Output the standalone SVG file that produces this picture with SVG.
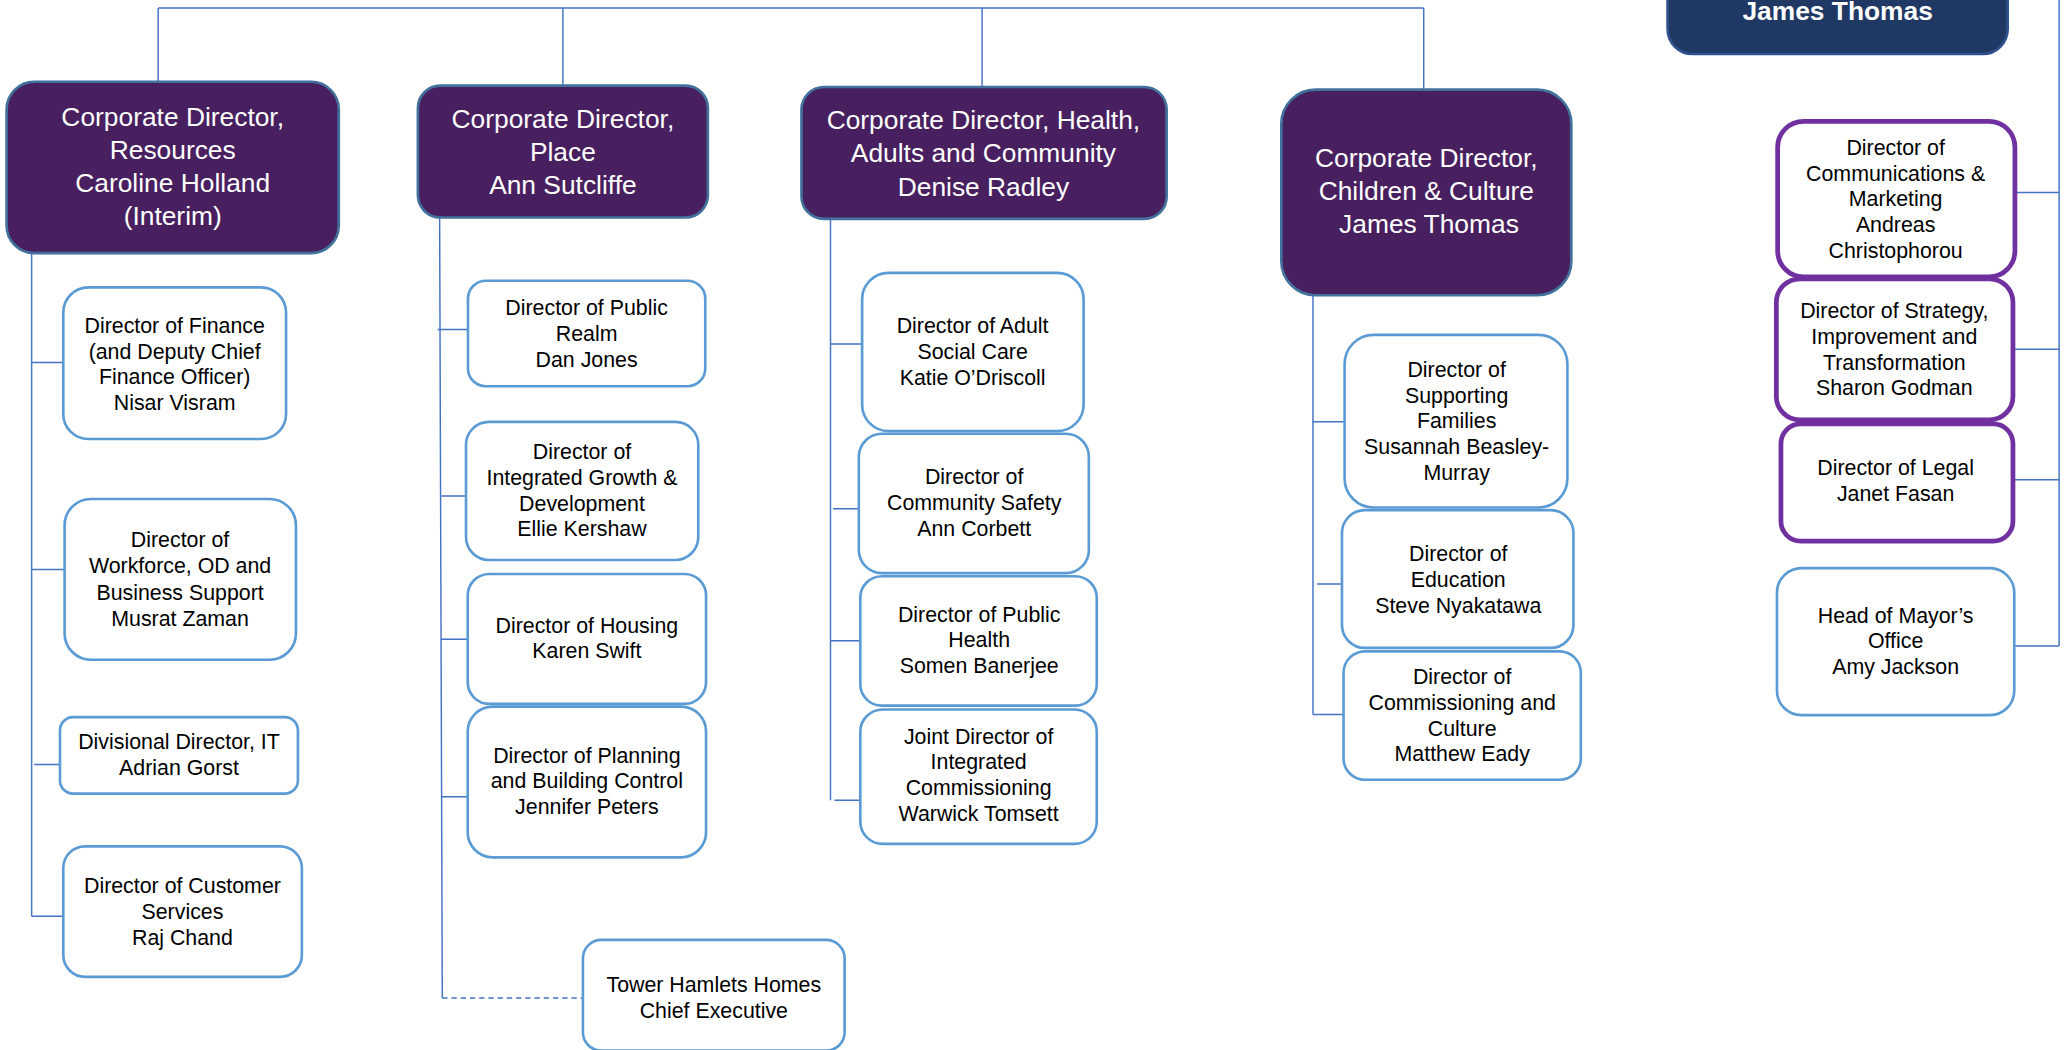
<svg xmlns="http://www.w3.org/2000/svg" width="2067" height="1050" viewBox="0 0 2067 1050">
<style>
.top rect{fill:#48205f;stroke:#41719c;stroke-width:2}
.top text{fill:#fff;font-family:"Liberation Sans",Arial,sans-serif;font-size:20px;text-anchor:middle}
.kid rect{fill:#fff;stroke:#5b9bd5;stroke-width:2}
.kid text{fill:#000;font-family:"Liberation Sans",Arial,sans-serif;font-size:16.2px;text-anchor:middle}
.pur rect{stroke:#7030a0;stroke-width:3.6}
.ln{stroke:#4472c4;stroke-width:1.1;fill:none}
.dash{stroke-dasharray:4 3}
</style>
<rect width="2067" height="1050" fill="#fff"/>
<g transform="scale(1.31824)">
<g id="connectors" class="ln">
<path d="M120 6H1080M120 6V62M427 6V65M745 6V66M1080 6V68"/>
<path d="M1562 0V490M1528 146H1562M1527 265H1562M1527 364H1562M1528 490H1562"/>
<path d="M24 192V695M24 275H48M24 432H49M26 580H46M24 695H49"/>
<path d="M333.5 165L335.5 757M332 250H355M335 376.3H353.5M334 485H354.8M335 604.4H354.8"/>
<path class="dash" d="M335.5 757H442"/>
<path d="M630 166V607M630 261H654M632 386H651M630 486H653M633 607H653"/>
<path d="M996 224V542M996 320H1020M999 443H1018M996 542H1019"/>
</g>
<g id="mayor-top">
<rect x="1265" y="-40" width="258" height="81" rx="19" fill="#203864" stroke="#2f528f" stroke-width="2"/>
<text x="1394" y="15.5" fill="#fff" font-family="Liberation Sans,Arial,sans-serif" font-size="20" font-weight="bold" text-anchor="middle">James Thomas</text>
</g>
<g id="cd-resources" class="top">
<rect x="5" y="62" width="252" height="130" rx="21"/>
<text x="131" y="95.5">Corporate Director,</text>
<text x="131" y="120.5">Resources</text>
<text x="131" y="145.5">Caroline Holland</text>
<text x="131" y="170.8">(Interim)</text>
</g>
<g id="cd-place" class="top">
<rect x="317" y="65" width="220" height="100" rx="17"/>
<text x="427" y="97">Corporate Director,</text>
<text x="427" y="122">Place</text>
<text x="427" y="147">Ann Sutcliffe</text>
</g>
<g id="cd-health" class="top">
<rect x="608" y="66" width="277" height="100" rx="17"/>
<text x="746" y="98">Corporate Director, Health,</text>
<text x="746" y="123">Adults and Community</text>
<text x="746" y="148.5">Denise Radley</text>
</g>
<g id="cd-children" class="top">
<rect x="972" y="68" width="220" height="156" rx="26"/>
<text x="1082" y="127">Corporate Director,</text>
<text x="1082" y="152">Children &amp; Culture</text>
<text x="1084" y="177">James Thomas</text>
</g>
<g id="finance" class="kid">
<rect x="48" y="218" width="169" height="115" rx="19"/>
<text x="132.5" y="252.4">Director of Finance</text>
<text x="132.5" y="272.1">(and Deputy Chief</text>
<text x="132.5" y="291.6">Finance Officer)</text>
<text x="132.5" y="311.4">Nisar Visram</text>
</g>
<g id="workforce" class="kid">
<rect x="49" y="378.5" width="175.5" height="122" rx="20"/>
<text x="136.6" y="415.3">Director of</text>
<text x="136.6" y="435">Workforce, OD and</text>
<text x="136.6" y="454.8">Business Support</text>
<text x="136.6" y="474.8">Musrat Zaman</text>
</g>
<g id="it" class="kid">
<rect x="45.5" y="544" width="180.5" height="58" rx="10"/>
<text x="135.8" y="568">Divisional Director, IT</text>
<text x="135.8" y="588">Adrian Gorst</text>
</g>
<g id="customer" class="kid">
<rect x="48" y="642" width="181" height="99" rx="16.5"/>
<text x="138.4" y="677.1">Director of Customer</text>
<text x="138.4" y="696.8">Services</text>
<text x="138.4" y="716.5">Raj Chand</text>
</g>
<g id="public-realm" class="kid">
<rect x="355" y="213" width="180" height="80" rx="13.5"/>
<text x="445" y="238.7">Director of Public</text>
<text x="445" y="258.8">Realm</text>
<text x="445" y="278.5">Dan Jones</text>
</g>
<g id="growth" class="kid">
<rect x="353.5" y="320" width="176.2" height="104.8" rx="17.5"/>
<text x="441.5" y="348.4">Director of</text>
<text x="441.5" y="367.9">Integrated Growth &amp;</text>
<text x="441.5" y="387.4">Development</text>
<text x="441.5" y="406.6">Ellie Kershaw</text>
</g>
<g id="housing" class="kid">
<rect x="354.8" y="435.4" width="180.8" height="98.6" rx="16.4"/>
<text x="445.2" y="480">Director of Housing</text>
<text x="445.2" y="499.4">Karen Swift</text>
</g>
<g id="planning" class="kid">
<rect x="354.8" y="536" width="180.8" height="114.4" rx="19"/>
<text x="445.2" y="578.6">Director of Planning</text>
<text x="445.2" y="598">and Building Control</text>
<text x="445.2" y="617.5">Jennifer Peters</text>
</g>
<g id="thh" class="kid">
<rect x="442.2" y="713" width="198.5" height="84" rx="14"/>
<text x="541.5" y="752.5">Tower Hamlets Homes</text>
<text x="541.5" y="772">Chief Executive</text>
</g>
<g id="adult-care" class="kid">
<rect x="654" y="207" width="168" height="120" rx="20"/>
<text x="737.8" y="252.7">Director of Adult</text>
<text x="737.8" y="272.4">Social Care</text>
<text x="737.8" y="292">Katie O’Driscoll</text>
</g>
<g id="community-safety" class="kid">
<rect x="651.5" y="329" width="174.5" height="105.8" rx="17.6"/>
<text x="739" y="367.3">Director of</text>
<text x="739" y="386.8">Community Safety</text>
<text x="739" y="406.6">Ann Corbett</text>
</g>
<g id="public-health" class="kid">
<rect x="652.6" y="437.1" width="179.4" height="98.2" rx="16.4"/>
<text x="742.8" y="471.6">Director of Public</text>
<text x="742.8" y="491.1">Health</text>
<text x="742.8" y="510.9">Somen Banerjee</text>
</g>
<g id="joint-commissioning" class="kid">
<rect x="652.6" y="538.2" width="179.4" height="102" rx="17"/>
<text x="742.4" y="564.2">Joint Director of</text>
<text x="742.4" y="583.6">Integrated</text>
<text x="742.4" y="603.1">Commissioning</text>
<text x="742.4" y="622.5">Warwick Tomsett</text>
</g>
<g id="supporting-families" class="kid">
<rect x="1020" y="254" width="169" height="131" rx="22"/>
<text x="1105" y="286.2">Director of</text>
<text x="1105" y="305.8">Supporting</text>
<text x="1105" y="324.9">Families</text>
<text x="1105" y="344.3">Susannah Beasley-</text>
<text x="1105" y="363.8">Murray</text>
</g>
<g id="education" class="kid">
<rect x="1018" y="387" width="175.6" height="104.5" rx="17.4"/>
<text x="1106.2" y="425.8">Director of</text>
<text x="1106.2" y="445.4">Education</text>
<text x="1106.2" y="464.8">Steve Nyakatawa</text>
</g>
<g id="commissioning-culture" class="kid">
<rect x="1019.2" y="494.1" width="180" height="97.4" rx="16.2"/>
<text x="1109.2" y="519.2">Director of</text>
<text x="1109.2" y="538.6">Commissioning and</text>
<text x="1109.2" y="558.2">Culture</text>
<text x="1109.2" y="577.4">Matthew Eady</text>
</g>
<g id="communications" class="kid pur">
<rect x="1348.5" y="92" width="180" height="118" rx="19.7"/>
<text x="1438" y="117.6">Director of</text>
<text x="1438" y="137">Communications &amp;</text>
<text x="1438" y="156.5">Marketing</text>
<text x="1438" y="176">Andreas</text>
<text x="1438" y="195.4">Christophorou</text>
</g>
<g id="strategy" class="kid pur">
<rect x="1347.5" y="211.5" width="179.5" height="107" rx="17.8"/>
<text x="1437" y="241.5">Director of Strategy,</text>
<text x="1437" y="261.2">Improvement and</text>
<text x="1437" y="280.7">Transformation</text>
<text x="1437" y="300">Sharon Godman</text>
</g>
<g id="legal" class="kid pur">
<rect x="1351" y="321.5" width="176" height="89" rx="15"/>
<text x="1438" y="360.4">Director of Legal</text>
<text x="1438" y="379.8">Janet Fasan</text>
</g>
<g id="mayors-office" class="kid">
<rect x="1348" y="431" width="180" height="111.5" rx="18.6"/>
<text x="1438" y="472.4">Head of Mayor’s</text>
<text x="1438" y="491.8">Office</text>
<text x="1438" y="511.3">Amy Jackson</text>
</g>
</g>
</svg>
